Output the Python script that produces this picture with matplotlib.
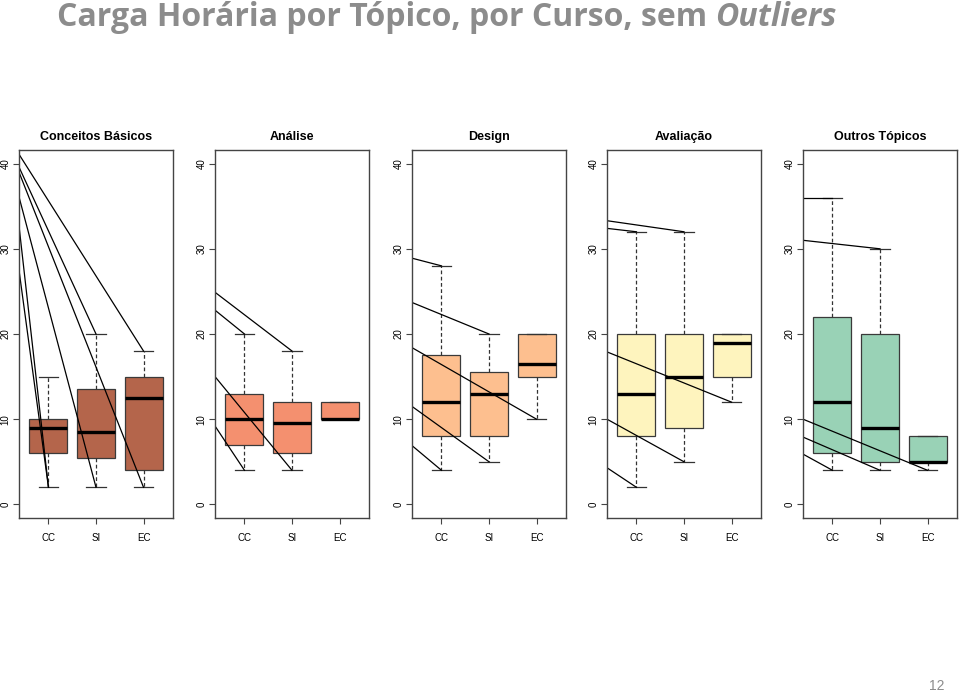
import matplotlib.pyplot as plt

topics = ['Conceitos Básicos', 'Análise', 'Design', 'Avaliação', 'Outros Tópicos']
courses = ['CC', 'SI', 'EC']
colors = ['#B4654B', '#F4906F', '#FDBF8F', '#FEF4BE', '#99D2B6']

# box statistics per topic, one value per course (CC, SI, EC)
whislo = [[2, 2, 2], [4, 4, 10], [4, 5, 10], [2, 5, 12], [4, 4, 4]]
q1 = [[6, 5.5, 4], [7, 6, 10], [8, 8, 15], [8, 9, 15], [6, 5, 5]]
med = [[9, 8.5, 12.5], [10, 9.5, 10], [12, 13, 16.5], [13, 15, 19], [12, 9, 5]]
q3 = [[10, 13.5, 15], [13, 12, 12], [17.5, 15.5, 20], [20, 20, 20], [22, 20, 8]]
whishi = [[15, 20, 18], [20, 18, 12], [28, 20, 20], [32, 32, 20], [36, 30, 8]]

# stray lines: (value at left frame, course position, value at end)
strays = [
    [(41.1, 3, 18), (39.6, 2, 20), (39.0, 3, 2), (36.1, 2, 2), (32.7, 1, 2), (27.5, 1, 2)],
    [(24.9, 2, 18), (22.8, 1, 20), (15.0, 2, 4), (9.2, 1, 4)],
    [(28.9, 1, 28), (23.7, 2, 20), (18.4, 3, 10), (11.5, 2, 5), (6.9, 1, 4)],
    [(33.3, 2, 32), (32.4, 1, 32), (17.9, 3, 12), (10, 2, 5), (4.3, 1, 2)],
    [(36, 1, 36), (31, 2, 30), (10, 3, 4), (7.9, 2, 4), (5.9, 1, 4)],
]

plt.rcParams['font.family'] = ['Liberation Sans', 'DejaVu Sans']

W, H = 960, 693
fig = plt.figure(figsize=(9.6, 6.93), dpi=100)
lefts = [19, 215, 412, 607, 803]
xmin, xmax = 0.38, 3.62

for i, topic in enumerate(topics):
    ax = fig.add_axes([lefts[i] / W, 175 / H, 154 / W, 368 / H])
    stats = []
    for j, c in enumerate(courses):
        stats.append({'label': c, 'whislo': whislo[i][j], 'q1': q1[i][j], 'med': med[i][j],
                      'q3': q3[i][j], 'whishi': whishi[i][j], 'fliers': []})
    ax.bxp(stats, positions=[1, 2, 3], widths=0.8, capwidths=0.4, patch_artist=True,
           showfliers=False,
           boxprops=dict(facecolor=colors[i], edgecolor='#3a3a3a', linewidth=0.9),
           medianprops=dict(color='black', linewidth=2.4, solid_capstyle='butt'),
           whiskerprops=dict(color='#333333', linewidth=0.9, linestyle=(0, (3, 2))),
           capprops=dict(color='#333333', linewidth=0.9))
    for y0, pos, y1 in strays[i]:
        ax.plot([xmin, pos], [y0, y1], color='black', linewidth=0.9)
    ax.set_xlim(xmin, xmax)
    ax.set_ylim(-1.6, 41.6)
    ax.set_yticks([0, 10, 20, 30, 40])
    ax.set_yticklabels(['0', '10', '20', '30', '40'], rotation=90, va='center', fontsize=7)
    ax.set_xticks([1, 2, 3])
    ax.set_xticklabels(courses, fontsize=7)
    ax.tick_params(axis='both', length=4, width=0.8, color='#444444')
    ax.tick_params(axis='x', pad=7)
    ax.tick_params(axis='y', pad=2)
    for s in ax.spines.values():
        s.set_color('#444444')
        s.set_linewidth(1.0)
    ax.set_title(topic, fontsize=9, fontweight='bold', pad=7)

# slide title with italic last word
t1 = fig.text(57 / W, 1 - 18 / H, 'Carga Horária por Tópico, por Curso, sem ', fontsize=23,
              color='#8c8c8c', fontweight='bold', va='center', ha='left', family='Open Sans')
fig.canvas.draw()
bb = t1.get_window_extent()
fig.text(bb.x1 / W, 1 - 18 / H, 'Outliers', fontsize=23, color='#8c8c8c', fontweight='bold',
         style='italic', va='center', ha='left', family='Open Sans')

fig.text(937 / W, 1 - 686 / H, '12', fontsize=10, color='#8c8c8c', ha='center', va='center')

fig.savefig('out.png', dpi=100)
